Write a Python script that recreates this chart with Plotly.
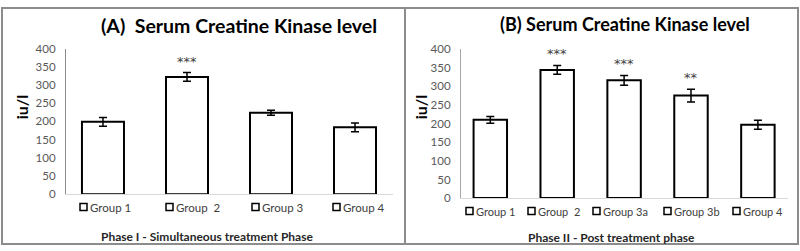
import plotly.graph_objects as go

# ---------------- data ----------------
cats_a = ["Group 1", "Group  2", "Group 3", "Group 4"]
vals_a = [199, 322, 224, 184]
errs_a = [12, 12, 7, 12]
sig_a = ["", "***", "", ""]

cats_b = ["Group 1", "Group  2", "Group 3a", "Group 3b", "Group 4"]
vals_b = [210, 344, 316, 275, 197]
errs_b = [9, 12, 13, 17, 12]
sig_b = ["", "***", "***", "**", ""]

y_ticks = [0, 50, 100, 150, 200, 250, 300, 350, 400]

W, H = 800, 251
# the captured picture shows the figure squeezed into rows OY .. OY+VIS
OY, VIS = 8, 235
FONT = "Lato, Carlito, Calibri, 'Open Sans', sans-serif"


def px(x):
    return x / W


def py(y):
    # y given in target-picture pixels from the top
    return 1 - (y - OY) / VIS


fig = go.Figure()

bar_style = dict(
    marker=dict(color="white", line=dict(color="black", width=2)),
    width=0.5,
    showlegend=False,
    hoverinfo="x+y",
)
err_style = dict(type="data", color="black", thickness=1.5, width=4, visible=True)

fig.add_trace(go.Bar(x=cats_a, y=vals_a, error_y=dict(array=errs_a, **err_style),
                     xaxis="x", yaxis="y", **bar_style))
fig.add_trace(go.Bar(x=cats_b, y=vals_b, error_y=dict(array=errs_b, **err_style),
                     xaxis="x2", yaxis="y2", **bar_style))

common_x = dict(showticklabels=False, ticks="", showgrid=False, zeroline=False,
                showline=True, linecolor="#D9D9D9", linewidth=1.2, fixedrange=True)
common_y = dict(range=[0, 400], tickvals=y_ticks, showgrid=False, zeroline=False,
                showline=True, linewidth=1.2, ticks="", ticklabelstandoff=7,
                tickfont=dict(family=FONT, size=11.5, color="#595959"), fixedrange=True)

fig.update_layout(
    width=W, height=H, autosize=False,
    margin=dict(l=0, r=0, t=0, b=0),
    paper_bgcolor="white", plot_bgcolor="white",
    font=dict(family=FONT),
    bargap=0.5,
    xaxis=dict(domain=[px(66), px(393)], range=[-0.44, 3.452],
               anchor="y", type="category", **common_x),
    yaxis=dict(domain=[py(193), py(49)], anchor="x", linecolor="#8C8C8C", **common_y),
    xaxis2=dict(domain=[px(461), px(788)], range=[-0.438, 4.45],
                anchor="y2", type="category", **common_x),
    yaxis2=dict(domain=[py(196.7), py(49.5)], anchor="x2", linecolor="#A6A6A6", **common_y),
)

annotations = []
shapes = []

# significance stars
for xa, ya, cats, vals, errs, sig in [("x", "y", cats_a, vals_a, errs_a, sig_a),
                                      ("x2", "y2", cats_b, vals_b, errs_b, sig_b)]:
    for c, v, e, s in zip(cats, vals, errs, sig):
        if s:
            annotations.append(dict(x=c, y=v + e, xref=xa, yref=ya, text=s,
                                    showarrow=False, yanchor="bottom", yshift=2,
                                    font=dict(family="DejaVu Sans", size=13, color="#404040")))

# titles
annotations.append(dict(x=px(239), y=py(26), xref="paper", yref="paper",
                        text="(A)  Serum Creatine Kinase level", showarrow=False,
                        xanchor="center", yanchor="middle",
                        font=dict(family=FONT, size=19.5, color="black", weight="bold")))
annotations.append(dict(x=px(625), y=py(25), xref="paper", yref="paper",
                        text="(B) Serum Creatine Kinase level", showarrow=False,
                        xanchor="center", yanchor="middle",
                        font=dict(family=FONT, size=18, color="black", weight="bold")))

# y axis titles
for xc in (21, 420):
    annotations.append(dict(x=px(xc), y=py(107), xref="paper", yref="paper",
                            text="iu/l", showarrow=False, textangle=-90,
                            xanchor="center", yanchor="middle",
                            font=dict(family=FONT, size=16, color="black", weight="bold")))

# phase labels (x axis titles)
annotations.append(dict(x=px(207), y=py(235), xref="paper", yref="paper",
                        text="Phase I - Simultaneous treatment Phase", showarrow=False,
                        xanchor="center", yanchor="middle",
                        font=dict(family=FONT, size=12, color="#262626", weight="bold")))
annotations.append(dict(x=px(611), y=py(236), xref="paper", yref="paper",
                        text="Phase II - Post treatment phase", showarrow=False,
                        xanchor="center", yanchor="middle",
                        font=dict(family=FONT, size=12, color="#262626", weight="bold")))

# custom legends
legend_a_x = [80, 166, 252, 333]
legend_b_x = [466, 528, 593, 664, 733]
for cats, xs, yc, fs in [(cats_a, legend_a_x, 205.5, 11.5), (cats_b, legend_b_x, 209.5, 11)]:
    for c, x0 in zip(cats, xs):
        shapes.append(dict(type="rect", xref="paper", yref="paper",
                           x0=px(x0), x1=px(x0 + 7), y0=py(yc + 3.5), y1=py(yc - 3.5),
                           line=dict(color="black", width=1.5), fillcolor="white"))
        annotations.append(dict(x=px(x0 + 8), y=py(yc), xref="paper", yref="paper",
                                text=c.replace("  ", " \u00a0"), showarrow=False,
                                xanchor="left", yanchor="middle",
                                font=dict(family=FONT, size=fs, color="#404040")))

# panel borders (kept inside the figure)
top = OY + VIS / H * 1.0
bot = OY + VIS / H * (H - 1.0)
shapes.append(dict(type="rect", xref="paper", yref="paper",
                   x0=px(2), x1=px(405), y0=py(bot), y1=py(top),
                   line=dict(color="#8C8C8C", width=2)))
shapes.append(dict(type="rect", xref="paper", yref="paper",
                   x0=px(405), x1=px(798), y0=py(bot), y1=py(top),
                   line=dict(color="#8C8C8C", width=2)))

fig.update_layout(annotations=annotations, shapes=shapes)

fig.write_html("out.html", config={"responsive": False, "displayModeBar": False},
               post_script="document.body.style.margin='0';document.body.style.overflow='hidden';")
